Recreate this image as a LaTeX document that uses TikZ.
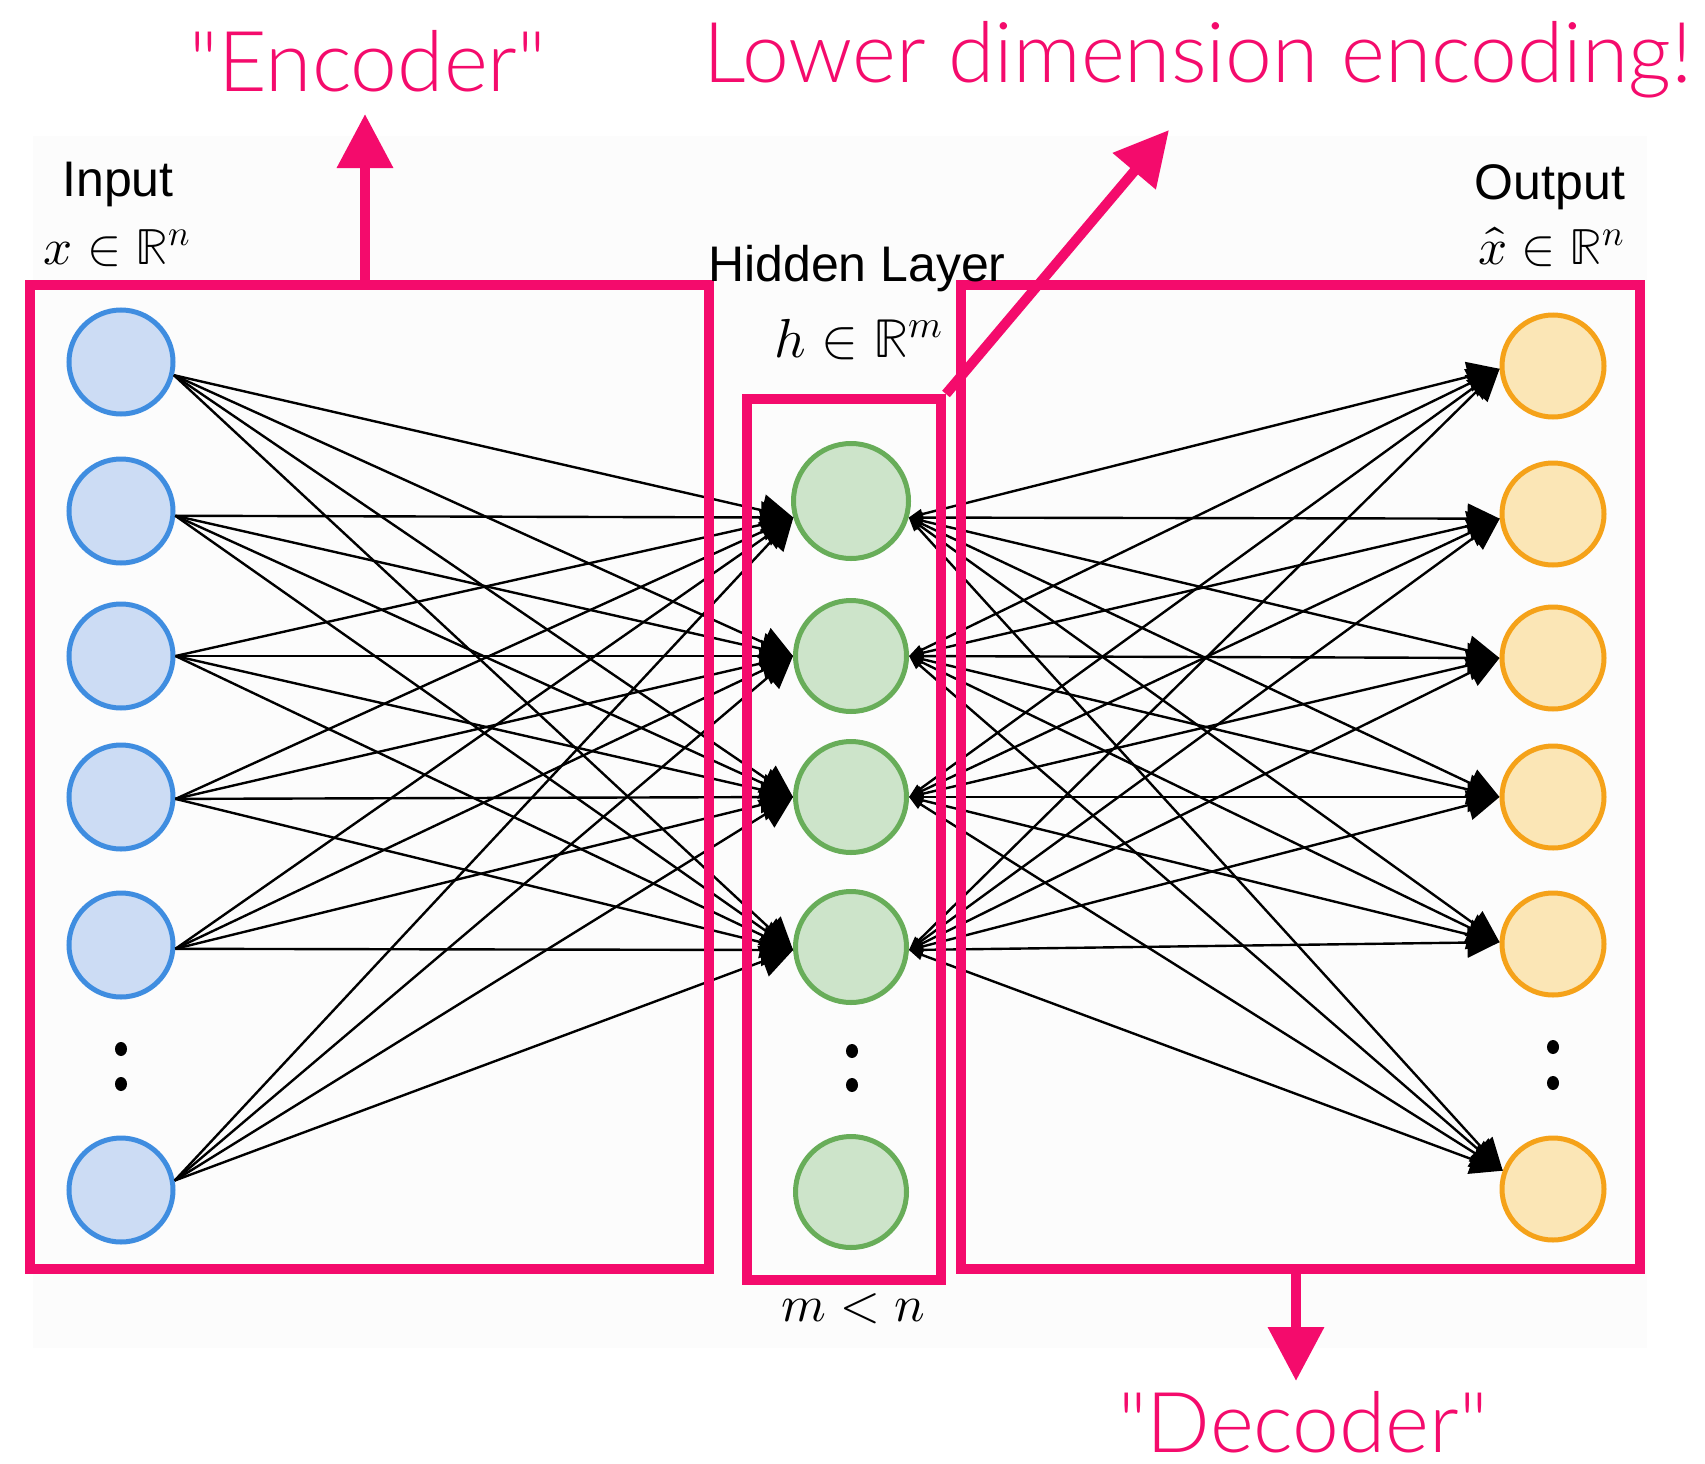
\documentclass[tikz,border=0pt]{standalone}
\usepackage{fontspec}
\usepackage{unicode-math}
\setmathfont{Latin Modern Math}
\setsansfont{Liberation Sans}
\newfontfamily\thinfont{Lato Light}
\usetikzlibrary{arrows.meta}

\definecolor{accent}{HTML}{F40B6C}
\definecolor{inborder}{HTML}{3F8DE0}
\definecolor{infill}{HTML}{CCDCF4}
\definecolor{hidborder}{HTML}{68AD59}
\definecolor{hidfill}{HTML}{CDE4CA}
\definecolor{outborder}{HTML}{F5A219}
\definecolor{outfill}{HTML}{FBE6B6}
\definecolor{paper}{HTML}{FCFCFC}

\tikzset{
  neuron/.style={circle, inner sep=0pt, line width=5pt},
  inneuron/.style={neuron, draw=inborder, fill=infill, minimum size=104pt},
  hidneuron/.style={neuron, draw=hidborder, fill=hidfill, minimum size=111pt},
  outneuron/.style={neuron, draw=outborder, fill=outfill, minimum size=102pt},
  edge/.style={line width=2.4pt, black, -{Triangle[length=32pt,width=32pt]}},
  backedge/.style={line width=2.4pt, black,
    {Triangle[length=14pt,width=10pt]}-{Triangle[length=32pt,width=30pt]}},
  groupbox/.style={draw=accent, line width=10pt, rectangle, inner sep=0pt},
  callout/.style={draw=accent, line width=10pt, -{Triangle[length=54pt,width=54pt]}},
  calltext/.style={text=accent, font=\thinfont\fontsize{84}{100}\selectfont, inner sep=0pt},
  layertext/.style={font=\sffamily\fontsize{50}{60}\selectfont, inner sep=0pt},
  mathtext/.style={font=\fontsize{51}{60}\selectfont, inner sep=0pt},
  dot/.style={fill=black}
}

\begin{document}
\begin{tikzpicture}[x=1pt,y=-1pt]
\useasboundingbox (0,0) rectangle (1705,1464);
\fill[paper] (33,136) rectangle (1647,1348);

% input layer
\node[inneuron] (i1) at (121,362) {};
\node[inneuron] (i2) at (121,511) {};
\node[inneuron] (i3) at (121,656) {};
\node[inneuron] (i4) at (121,797) {};
\node[inneuron] (i5) at (121,945) {};
\node[inneuron] (i6) at (121,1190) {};
\fill[dot] (121,1049) ellipse (6pt and 7pt);
\fill[dot] (121,1084) ellipse (6pt and 7pt);

% hidden layer
\node[hidneuron, minimum size=115pt] (h1) at (851,501) {};
\node[hidneuron] (h2) at (851,656) {};
\node[hidneuron] (h3) at (851,797) {};
\node[hidneuron] (h4) at (851,947) {};
\node[hidneuron] (h5) at (851,1192) {};
\fill[dot] (852,1051) ellipse (6pt and 7pt);
\fill[dot] (852,1085) ellipse (6pt and 7pt);

% output layer
\node[outneuron] (o1) at (1553,366) {};
\node[outneuron] (o2) at (1553,514) {};
\node[outneuron] (o3) at (1553,658) {};
\node[outneuron] (o4) at (1553,797) {};
\node[outneuron] (o5) at (1553,944) {};
\node[outneuron] (o6) at (1553,1189) {};
\fill[dot] (1553,1047) ellipse (6pt and 7pt);
\fill[dot] (1553,1083) ellipse (6pt and 7pt);

% encoder connections
\foreach \i/\a in {1/346,2/355,3/0,4/358,5/356,6/10}
  \foreach \h/\b in {1/196,2/180,3/180,4/183}
    \draw[edge] (i\i.\a) -- (h\h.\b);

% decoder connections
\foreach \h/\b in {1/344,2/0,3/0,4/357}
  \foreach \o/\c in {1/183,2/185,3/180,4/180,5/178,6/160}
    \draw[backedge] (h\h.\b) -- (o\o.\c);

% group boxes
\node[groupbox, minimum width=679pt, minimum height=984pt] (enc) at (369.5,777) {};
\node[groupbox, minimum width=194pt, minimum height=881pt] (hid) at (844,839.5) {};
\node[groupbox, minimum width=679pt, minimum height=984pt] (dec) at (1300.5,777) {};

% callouts
\coordinate (encTip) at (365,114);
\coordinate (encFoot) at (365,285);
\coordinate (decFoot) at (1296,1269);
\coordinate (decTip) at (1296,1381);
\coordinate (hidTip) at (1169,130);
\draw[callout] (encFoot) -- (encTip);
\draw[callout] (decFoot) -- (decTip);
\draw[callout] (hid.north east) -- (hidTip);

\node[calltext, anchor=base] (encLabel) at (368,92) {"Encoder"};
\node[calltext, anchor=base] (hidLabel) at (1198,82) {Lower dimension encoding!};
\node[calltext, anchor=base] (decLabel) at (1303,1452) {"Decoder"};

% layer captions
\node[layertext, anchor=base] (inCap) at (118,196) {Input};
\node[mathtext, anchor=base] (inDim) at (117,264) {$x \in \mathbb{R}^n$};
\node[layertext, anchor=base] (hidCap) at (857,281) {Hidden Layer};
\node[mathtext, anchor=base, font=\fontsize{55}{64}\selectfont] (hidDim) at (859,357) {$h \in \mathbb{R}^m$};
\node[layertext, anchor=base] (outCap) at (1550,199) {Output};
\node[mathtext, anchor=base] (outDim) at (1551,264) {$\hat{x} \in \mathbb{R}^n$};
\node[mathtext, anchor=base] (ratio) at (853,1321) {$m < n$};
\end{tikzpicture}
\end{document}
